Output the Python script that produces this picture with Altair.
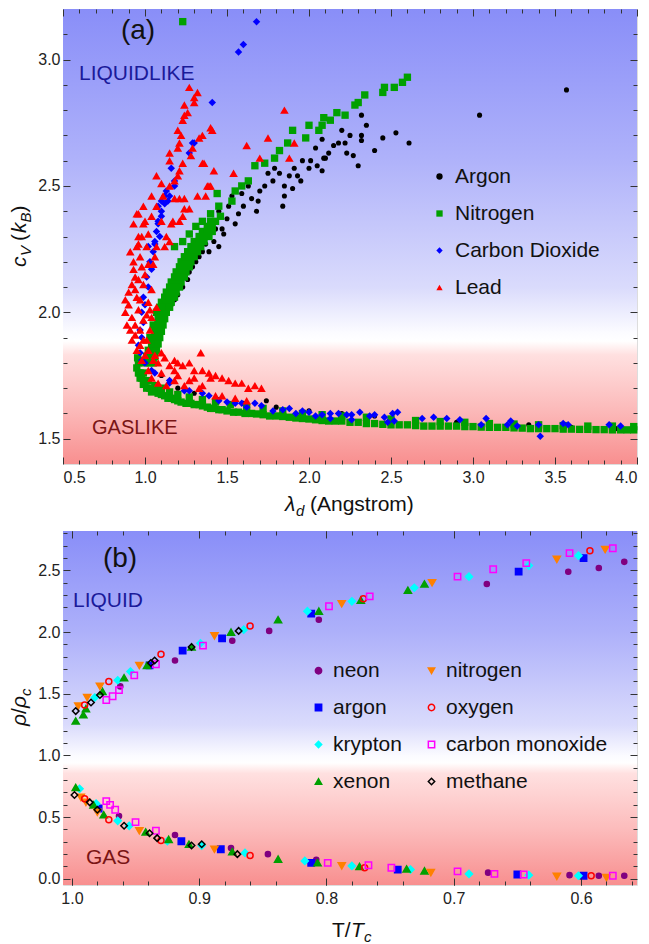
import altair as alt
import pandas as pd

# ---------------- Panel (a) data: (lambda_d [Angstrom], c_V [k_B]) ----------------
argon_pts = [
    (1.06, 1.88), (1.08, 1.89), (1.08, 1.93), (1.10, 1.96), (1.13, 2.00), (1.16, 2.03), (1.20, 2.07),
    (1.23, 2.10), (1.26, 2.13), (1.29, 2.18), (1.33, 2.22), (1.39, 2.24), (1.45, 2.26), (1.35, 2.24),
    (1.37, 2.27), (1.39, 2.30), (1.41, 2.36), (1.45, 2.40), (1.48, 2.31), (1.51, 2.42), (1.53, 2.46),
    (1.55, 2.35), (1.57, 2.39), (1.59, 2.47), (1.63, 2.50), (1.68, 2.40), (1.69, 2.44), (1.73, 2.50),
    (1.75, 2.55), (1.79, 2.57), (1.84, 2.42), (1.85, 2.46), (1.85, 2.50), (1.88, 2.54), (1.93, 2.54),
    (1.91, 2.57), (1.96, 2.60), (2.00, 2.57), (2.01, 2.60), (2.04, 2.65), (2.09, 2.61), (2.08, 2.56),
    (2.08, 2.685), (2.10, 2.61), (2.15, 2.66), (2.20, 2.72), (2.22, 2.67), (2.23, 2.63), (2.30, 2.58),
    (2.32, 2.78), (2.32, 2.70), (2.32, 2.68), (2.35, 2.74), (2.53, 2.71), (2.61, 2.67), (3.04, 2.78),
    (3.57, 2.88), (1.18, 2.05), (1.22, 2.12), (1.27, 2.16), (1.31, 2.20), (1.42, 2.28), (1.47, 2.33),
    (1.50, 2.37), (1.43, 2.33), (1.60, 2.42), (1.65, 2.45), (1.70, 2.48), (1.78, 2.52), (1.82, 2.55),
    (1.90, 2.49), (1.95, 2.52), (2.05, 2.58), (2.12, 2.63), (2.18, 2.67), (2.25, 2.70), (2.27, 2.62),
    (2.40, 2.64), (2.45, 2.69),
    (1.74, 1.65), (1.10, 1.75), (1.20, 1.70), (1.30, 1.68), (1.45, 1.655), (1.60, 1.64), (1.80, 1.625),
    (2.00, 1.61), (2.20, 1.60), (2.40, 1.59), (2.65, 1.575), (2.90, 1.565), (3.10, 1.555), (3.34, 1.555),
    (3.60, 1.545), (3.87, 1.54),
]
nitrogen_pts = [
    (1.00, 1.80), (1.03, 1.80), (1.05, 1.80), (1.02, 1.85), (1.05, 1.85), (1.07, 1.85),
    (1.03, 1.90), (1.06, 1.90), (1.09, 1.90), (1.05, 1.95), (1.08, 1.95), (1.11, 1.95),
    (1.07, 2.00), (1.10, 2.00), (1.13, 2.00), (1.10, 2.04), (1.13, 2.04), (1.16, 2.04),
    (1.13, 2.08), (1.16, 2.08), (1.19, 2.08), (1.16, 2.12), (1.19, 2.12), (1.22, 2.12),
    (1.19, 2.16), (1.22, 2.16), (1.25, 2.16), (1.22, 2.20), (1.25, 2.20), (1.28, 2.20),
    (1.26, 2.24), (1.29, 2.24), (1.32, 2.24), (1.30, 2.28), (1.33, 2.28), (1.36, 2.28),
    (1.35, 2.32), (1.38, 2.32), (1.41, 2.32), (1.40, 2.36), (1.43, 2.36), (1.46, 2.38),
    (1.01, 1.825), (1.04, 1.825), (1.06, 1.825), (1.04, 1.875), (1.07, 1.875), (1.08, 1.875),
    (1.06, 1.925), (1.09, 1.925), (1.10, 1.925), (1.08, 1.975), (1.11, 1.975), (1.12, 1.975),
    (1.09, 2.02), (1.12, 2.02), (1.15, 2.02), (1.12, 2.06), (1.15, 2.06), (1.18, 2.06),
    (1.15, 2.10), (1.18, 2.10), (1.21, 2.10), (1.18, 2.14), (1.21, 2.14), (1.24, 2.14),
    (1.21, 2.18), (1.24, 2.18), (1.27, 2.18), (1.24, 2.22), (1.27, 2.22), (1.30, 2.22),
    (1.28, 2.26), (1.31, 2.26), (1.34, 2.26), (1.33, 2.30), (1.36, 2.30), (1.39, 2.30),
    (1.38, 2.34), (1.41, 2.34),
    (1.18, 2.26), (1.23, 2.28), (1.27, 2.31), (1.31, 2.34), (1.35, 2.36), (1.40, 2.39), (1.45, 2.42),
    (1.44, 2.47), (1.53, 2.44), (1.55, 2.48), (1.59, 2.50), (1.63, 2.52), (1.67, 2.58), (1.73, 2.59),
    (1.79, 2.61), (1.82, 2.64), (1.87, 2.67), (1.90, 2.72), (1.98, 2.69), (2.00, 2.74), (2.06, 2.72),
    (2.09, 2.77), (2.08, 2.74), (2.13, 2.76), (2.17, 2.79), (2.22, 2.78), (2.28, 2.82), (2.30, 2.83),
    (2.34, 2.86), (2.45, 2.87), (2.46, 2.89), (2.52, 2.89), (2.57, 2.91), (2.60, 2.93), (1.23, 3.15),
    (0.96, 1.80), (0.95, 1.78), (0.97, 1.76), (0.98, 1.74), (1.00, 1.72), (1.03, 1.70), (1.06, 1.69),
    (1.08, 1.68), (1.12, 1.67), (1.16, 1.66), (1.20, 1.65), (1.25, 1.64), (1.30, 1.635), (1.35, 1.63),
    (1.40, 1.62), (1.45, 1.615), (1.50, 1.61), (1.57, 1.605), (1.65, 1.60), (1.72, 1.595), (1.80, 1.59),
    (1.88, 1.585), (1.96, 1.58), (2.04, 1.575), (2.12, 1.57), (2.20, 1.57), (2.30, 1.565), (2.40, 1.56),
    (2.50, 1.555), (2.60, 1.555), (2.70, 1.55), (2.80, 1.55), (2.90, 1.55), (3.00, 1.548), (3.10, 1.545),
    (3.20, 1.545), (3.30, 1.542), (3.40, 1.54), (3.50, 1.54), (3.60, 1.538), (3.70, 1.537), (3.80, 1.536),
    (3.90, 1.535), (3.98, 1.535),
    (0.99, 1.76), (1.02, 1.73), (1.06, 1.71), (1.10, 1.70), (1.15, 1.685), (1.20, 1.675), (1.27, 1.665),
    (1.35, 1.655), (1.43, 1.645), (1.52, 1.635), (1.62, 1.625), (1.72, 1.62), (1.84, 1.61), (1.96, 1.60),
    (2.08, 1.595), (2.20, 1.59), (2.35, 1.585), (2.50, 1.578), (2.65, 1.572), (2.80, 1.568), (2.95, 1.565),
    (3.10, 1.56), (3.25, 1.558), (3.40, 1.555), (3.55, 1.552), (3.70, 1.55), (3.85, 1.55), (3.98, 1.548),
    (0.955, 1.82), (0.96, 1.76), (0.97, 1.74), (0.99, 1.715), (1.01, 1.70), (1.04, 1.685), (1.10, 1.675),
    (1.14, 1.66), (1.18, 1.655), (1.22, 1.645), (1.28, 1.64), (1.33, 1.635), (1.38, 1.625), (1.42, 1.62),
    (1.47, 1.615), (1.54, 1.605), (1.61, 1.60), (1.68, 1.598), (1.76, 1.59), (1.84, 1.588), (1.92, 1.582),
    (2.00, 1.578), (2.08, 1.572), (2.16, 1.57), (2.25, 1.565), (2.35, 1.56), (2.45, 1.557), (2.55, 1.555),
    (2.65, 1.552), (2.75, 1.55), (2.85, 1.55), (2.95, 1.548), (3.05, 1.546), (3.15, 1.545), (3.25, 1.543),
    (3.35, 1.54), (3.45, 1.54), (3.55, 1.538), (3.65, 1.537), (3.75, 1.536), (3.85, 1.535), (3.94, 1.535),
]
co2_pts = [
    (1.41, 2.83), (1.57, 3.03), (1.60, 3.06), (1.68, 3.15),
    (1.30, 2.67), (1.29, 2.67), (1.27, 2.63), (1.16, 2.57), (1.18, 2.52), (1.18, 2.50), (1.15, 2.46),
    (1.12, 2.46), (1.14, 2.44), (1.10, 2.44), (1.12, 2.43), (1.08, 2.42), (1.10, 2.40), (1.08, 2.36),
    (1.07, 2.32), (1.06, 2.28), (1.02, 2.26), (1.08, 2.35), (1.06, 2.27), (1.03, 2.20), (1.01, 2.14),
    (0.99, 2.06), (0.98, 2.00), (0.97, 1.93), (0.96, 1.87), (0.98, 1.81), (1.04, 1.77), (1.15, 1.73),
    (1.27, 1.69), (1.39, 1.67), (1.05, 2.24), (1.04, 2.17), (1.02, 2.10), (1.00, 2.03), (0.99, 1.96),
    (0.98, 1.90), (0.97, 1.84), (1.00, 1.80), (1.06, 1.76), (1.15, 1.72), (1.24, 1.69), (1.35, 1.68),
    (1.45, 1.65), (1.59, 1.64), (1.71, 1.63), (1.84, 1.615), (1.96, 1.61), (2.08, 1.595), (1.10, 2.38),
    (1.13, 2.48), (1.09, 2.30), (1.50, 1.645), (1.55, 1.64), (1.62, 1.625), (1.67, 1.64), (1.78, 1.61),
    (1.88, 1.62), (1.92, 1.60), (2.00, 1.605), (2.04, 1.59),
    (2.13, 1.60), (2.13, 1.58), (2.18, 1.60), (2.23, 1.595), (2.26, 1.575), (2.26, 1.595), (2.31, 1.605),
    (2.37, 1.59), (2.40, 1.595), (2.46, 1.585), (2.48, 1.565), (2.51, 1.60), (2.52, 1.57), (2.54, 1.605),
    (2.69, 1.58), (2.76, 1.585), (2.84, 1.58), (2.92, 1.575), (3.05, 1.555), (3.08, 1.58), (3.21, 1.555),
    (3.23, 1.57), (3.27, 1.55), (3.40, 1.555), (3.41, 1.51), (3.55, 1.56), (3.58, 1.555), (3.83, 1.555),
    (3.90, 1.55),
]
lead_pts = [
    (1.27, 2.89), (1.32, 2.87), (1.30, 2.85), (1.30, 2.83), (1.24, 2.82), (1.26, 2.79), (1.24, 2.78),
    (1.23, 2.76), (1.20, 2.72), (1.22, 2.70), (1.33, 2.69), (1.35, 2.70), (1.21, 2.67), (1.20, 2.65),
    (1.29, 2.65), (1.28, 2.62), (1.15, 2.63), (1.15, 2.60), (1.23, 2.59), (1.21, 2.56), (1.36, 2.59),
    (1.07, 2.54), (1.20, 2.54), (1.18, 2.52), (1.10, 2.51), (1.38, 2.50), (1.40, 2.50), (1.04, 2.46),
    (1.11, 2.46), (1.32, 2.46), (1.37, 2.46), (1.21, 2.45), (1.24, 2.45), (0.99, 2.42), (1.27, 2.41),
    (1.85, 2.80), (1.75, 2.69), (1.62, 2.66), (1.91, 2.67), (1.70, 2.61), (1.88, 2.61), (1.54, 2.55),
    (1.41, 2.72), (1.40, 2.73), (1.35, 2.59), (1.42, 2.56), (1.39, 2.50), (1.18, 2.45), (1.15, 2.50),
    (0.95, 2.39), (0.93, 2.35), (1.00, 2.36), (1.10, 2.36), (1.16, 2.35), (1.23, 2.38), (1.24, 2.41),
    (0.96, 2.30), (1.02, 2.31), (0.96, 2.27),
    (1.07, 2.42), (0.96, 2.39), (1.04, 2.38), (0.99, 2.35), (1.17, 2.36), (1.21, 2.36), (0.98, 2.30),
    (1.13, 2.30), (1.15, 2.28), (0.95, 2.26), (1.07, 2.26), (1.12, 2.26), (0.91, 2.24), (0.97, 2.22),
    (1.06, 2.22), (1.02, 2.19), (1.05, 2.19), (0.93, 2.17), (1.00, 2.15), (0.96, 2.13), (0.92, 2.11),
    (0.99, 2.11), (1.04, 2.09), (0.90, 2.08), (0.95, 2.06), (1.02, 2.04), (0.90, 2.03), (0.96, 2.01),
    (1.03, 2.01), (1.07, 2.02), (0.92, 1.98), (0.99, 1.97), (1.04, 1.98), (0.91, 1.93), (0.97, 1.93),
    (1.03, 1.93), (0.92, 1.89), (0.99, 1.89), (0.95, 1.85), (1.02, 1.85), (0.98, 1.81), (1.05, 1.81),
    (1.08, 1.80), (1.15, 1.79), (1.23, 1.79), (1.30, 1.77), (1.39, 1.76), (1.34, 1.84), (1.02, 1.77),
    (1.10, 1.76), (1.18, 1.73), (1.24, 1.71), (1.33, 1.70),
    (0.88, 2.05), (0.88, 2.00), (0.89, 1.95), (0.94, 2.09), (0.94, 1.95), (0.94, 1.91), (0.97, 1.87),
    (1.01, 1.89), (1.00, 1.83), (0.93, 2.20), (0.98, 2.18), (1.01, 2.26), (0.94, 2.14), (0.97, 2.05),
    (1.01, 1.99), (1.06, 1.83), (1.12, 1.82), (1.20, 1.80), (1.04, 1.74), (1.08, 1.72), (1.13, 1.71),
    (1.10, 1.84), (1.18, 1.81), (1.27, 1.80), (1.35, 1.77), (1.43, 1.75), (1.51, 1.73), (1.59, 1.72),
    (1.67, 1.71), (1.71, 1.70), (1.18, 1.77), (1.27, 1.73), (1.35, 1.71), (1.43, 1.67), (1.47, 1.67),
    (1.55, 1.66), (1.62, 1.65), (1.40, 1.74), (1.47, 1.74), (1.55, 1.72), (1.63, 1.70), (1.20, 1.75),
    (1.30, 1.74),
]
series_a = ["Argon", "Nitrogen", "Carbon Dioxide", "Lead"]

# ---------------- Panel (b) data: (T/Tc, rho/rho_c) ----------------
neon_pts = [(0.962, 1.56), (0.919, 1.77), (0.874, 1.93), (0.845, 2.01), (0.806, 2.10),
            (0.674, 2.39), (0.610, 2.49), (0.586, 2.52), (0.566, 2.57), (0.963, 0.51), (0.919, 0.355),
            (0.875, 0.25), (0.846, 0.20), (0.808, 0.155), (0.673, 0.05), (0.609, 0.03), (0.586, 0.025),
            (0.566, 0.025)]
argon_b_pts = [(0.939, 1.73), (0.913, 1.85), (0.882, 1.95), (0.812, 2.15), (0.649, 2.49),
               (0.598, 2.60), (0.979, 0.57), (0.914, 0.305), (0.883, 0.24), (0.812, 0.13), (0.744, 0.075),
               (0.650, 0.035), (0.598, 0.025)]
krypton_pts = [(0.964, 1.61), (0.954, 1.68), (0.899, 1.91), (0.865, 2.02), (0.815, 2.17), (0.780, 2.25),
               (0.731, 2.36), (0.688, 2.45), (0.641, 2.54), (0.602, 2.62), (0.982, 1.47),
               (0.994, 0.73), (0.981, 0.61), (0.964, 0.47), (0.955, 0.43), (0.925, 0.305), (0.898, 0.27),
               (0.864, 0.21), (0.817, 0.145), (0.780, 0.105), (0.734, 0.075), (0.688, 0.04), (0.641, 0.03),
               (0.602, 0.025)]
xenon_pts = [(0.997, 1.28), (0.991, 1.33), (0.989, 1.38), (0.976, 1.52), (0.959, 1.63), (0.941, 1.73),
             (0.906, 1.88), (0.875, 2.00), (0.838, 2.10), (0.806, 2.17), (0.773, 2.26), (0.736, 2.34),
             (0.723, 2.39), (0.997, 0.74), (0.983, 0.60), (0.975, 0.52), (0.942, 0.38),
             (0.924, 0.32), (0.908, 0.28), (0.874, 0.22), (0.838, 0.16), (0.807, 0.13), (0.774, 0.10),
             (0.737, 0.08), (0.723, 0.065)]
nitrogen_b_pts = [(0.995, 1.40), (0.988, 1.47), (0.978, 1.56), (0.947, 1.73), (0.888, 1.97), (0.788, 2.23),
                  (0.717, 2.40), (0.619, 2.59), (0.581, 2.67), (0.993, 0.66), (0.989, 0.62), (0.980, 0.54),
                  (0.947, 0.39), (0.888, 0.24), (0.788, 0.105), (0.718, 0.05), (0.619, 0.02), (0.580, 0.01)]
oxygen_pts = [(0.990, 1.41), (0.971, 1.60), (0.930, 1.82), (0.860, 2.05), (0.771, 2.27), (0.593, 2.66),
              (0.990, 0.65), (0.971, 0.48), (0.930, 0.31), (0.860, 0.19), (0.770, 0.09), (0.592, 0.025)]
co_pts = [(0.973, 1.45), (0.968, 1.48), (0.963, 1.53), (0.951, 1.65), (0.934, 1.74), (0.897, 1.89),
          (0.798, 2.21), (0.766, 2.29), (0.697, 2.45), (0.669, 2.51), (0.643, 2.56), (0.609, 2.64),
          (0.575, 2.68), (0.973, 0.63), (0.970, 0.60), (0.966, 0.56), (0.950, 0.46), (0.934, 0.39),
          (0.799, 0.13), (0.767, 0.11), (0.749, 0.09), (0.697, 0.06), (0.668, 0.04), (0.645, 0.035),
          (0.575, 0.025)]
methane_pts = [(0.997, 1.36), (0.985, 1.43), (0.978, 1.49), (0.938, 1.75), (0.935, 1.77), (0.906, 1.88),
               (0.869, 2.01), (0.998, 0.68), (0.986, 0.62), (0.980, 0.56), (0.959, 0.43), (0.939, 0.37),
               (0.933, 0.33), (0.906, 0.27), (0.898, 0.28), (0.870, 0.20)]
series_b = ["neon", "argon", "krypton", "xenon", "nitrogen", "oxygen", "carbon monoxide", "methane"]

# ---------------- tables ----------------
rows = []
for name, pts in zip(series_a, [argon_pts, nitrogen_pts, co2_pts, lead_pts]):
    rows += [{"lam": p[0], "cv": p[1], "gas": name} for p in pts]
df_a = pd.DataFrame(rows)
size_a = {"Argon": 26, "Nitrogen": 54, "Carbon Dioxide": 56, "Lead": 74}
df_a["sz"] = df_a["gas"].map(size_a)

rows = []
for name, pts in zip(series_b, [neon_pts, argon_b_pts, krypton_pts, xenon_pts, nitrogen_b_pts,
                                oxygen_pts, co_pts, methane_pts]):
    rows += [{"t": p[0], "rho": p[1], "species": name} for p in pts]
df_b = pd.DataFrame(rows)
size_b = {"neon": 26, "argon": 40, "krypton": 50, "xenon": 50, "nitrogen": 50,
          "oxygen": 36, "carbon monoxide": 40, "methane": 42}
df_b["sz"] = df_b["species"].map(size_b)

FONT = "Liberation Sans"
W = 574
HA = 455
HB = 354
one = pd.DataFrame({"k": [0]})


def gradient(white_at):
    w = white_at
    return alt.LinearGradient(
        gradient="linear", x1=0, x2=0, y1=0, y2=1,
        stops=[
            alt.GradientStop(color="#898ef8", offset=0),
            alt.GradientStop(color="#aeb1fa", offset=w * 0.45),
            alt.GradientStop(color="#dadbfc", offset=w * 0.85),
            alt.GradientStop(color="#fbfbff", offset=w - 0.01),
            alt.GradientStop(color="#ffffff", offset=w + 0.01),
            alt.GradientStop(color="#ffe0e0", offset=w + 0.04),
            alt.GradientStop(color="#fcbcbc", offset=w + (1 - w) * 0.55),
            alt.GradientStop(color="#f88f8f", offset=1),
        ],
    )


def axis(orient, values, size, labels, pad=4):
    return alt.Axis(orient=orient, values=values, tickSize=size, offset=-size, labels=labels,
                    domain=False, grid=False, title=None, ticks=True, tickColor="#333",
                    tickWidth=1, labelFontSize=16, labelFont=FONT, labelColor="#222",
                    labelPadding=pad, format=".1f", zindex=1)


def txt(text, x, y, size, color="#111", style="normal", align="left", angle=0):
    return alt.Chart(one).mark_text(text=text, fontSize=size, font=FONT, fontStyle=style, color=color,
                                    align=align, baseline="middle", angle=angle).encode(
        x=alt.value(x), y=alt.value(y))


def panel(df, xf, yf, xs, ys, xmaj, xmin, ymaj, ymin, H, white_at, points, texts):
    bg = alt.Chart(one).mark_rect(fill=gradient(white_at), strokeWidth=0).encode(
        x=alt.value(0), x2=alt.value(W), y=alt.value(0), y2=alt.value(H))
    main = points.encode(x=alt.X(xf, scale=xs, axis=axis("bottom", xmaj, 7, True, 5)),
                         y=alt.Y(yf, scale=ys, axis=axis("left", ymaj, 7, True, 3)))
    ghost = []
    for xa, ya in [(axis("bottom", xmin, 4, False), axis("left", ymin, 4, False)),
                   (axis("top", xmaj, 7, False), axis("right", ymaj, 7, False)),
                   (axis("top", xmin, 4, False), axis("right", ymin, 4, False))]:
        ghost.append(alt.Chart(df).mark_point(opacity=0).encode(
            x=alt.X(xf, scale=xs, axis=xa), y=alt.Y(yf, scale=ys, axis=ya)))
    return alt.layer(bg, *ghost, main, *texts).resolve_axis(x="independent", y="independent").properties(
        width=W, height=H)


# ---- panel (a)
xs_a = alt.Scale(domain=[0.5, 4.0], nice=False, zero=False)
ys_a = alt.Scale(domain=[1.4, 3.2], nice=False, zero=False)
xmaj_a = [0.5, 1.0, 1.5, 2.0, 2.5, 3.0, 3.5, 4.0]
xmin_a = [round(0.5 + 0.1 * i, 2) for i in range(1, 35) if i % 5]
ymaj_a = [1.5, 2.0, 2.5, 3.0]
ymin_a = [round(1.4 + 0.1 * i, 2) for i in range(1, 18) if (i - 1) % 5]

leg_a = alt.Legend(orient="none", legendX=366, legendY=157, title=None, labelFontSize=21, labelFont=FONT,
                   labelColor="#111", symbolSize=40, rowPadding=15, labelOffset=5, padding=0, labelLimit=400)
pts_a = alt.Chart(df_a).mark_point(filled=True, opacity=1).encode(
    color=alt.Color("gas:N", scale=alt.Scale(domain=series_a, range=["#000000", "#00a000", "#0000ff", "#ff0000"]),
                    legend=leg_a),
    shape=alt.Shape("gas:N", scale=alt.Scale(domain=series_a, range=["circle", "square", "diamond", "triangle-up"]),
                    legend=leg_a),
    size=alt.Size("sz:Q", scale=None, legend=None),
)
texts_a = [
    txt("(a)", 75, 22, 28, align="center"),
    txt("LIQUIDLIKE", 16, 65, 21, color="#1a1a9a"),
    txt("GASLIKE", 29, 419, 20, color="#7a1414"),
    txt("λ", 222, 496, 21, style="italic"),
    txt("d", 233, 502, 15, style="italic"),
    txt("(Angstrom)", 247, 496, 21),
    txt("c", -43, 258, 21, style="italic", angle=270),
    txt("V", -37, 247, 15, style="italic", angle=270),
    txt("(", -43, 232, 21, angle=270),
    txt("k", -43, 224, 21, style="italic", angle=270),
    txt("B", -37, 213.5, 15, style="italic", angle=270),
    txt(")", -43, 203.5, 21, angle=270),
]
chart_a = panel(df_a, "lam:Q", "cv:Q", xs_a, ys_a, xmaj_a, xmin_a, ymaj_a, ymin_a, HA, 0.72, pts_a, texts_a)

# ---- panel (b)
xs_b = alt.Scale(domain=[0.556, 1.007], nice=False, zero=False, reverse=True)
ys_b = alt.Scale(domain=[-0.05, 2.82], nice=False, zero=False)
xmaj_b = [1.0, 0.9, 0.8, 0.7, 0.6]
xmin_b = [round(0.56 + 0.02 * i, 2) for i in range(0, 23) if (i + 2) % 5]
ymaj_b = [0.0, 0.5, 1.0, 1.5, 2.0, 2.5]
ymin_b = [round(0.1 * i, 2) for i in range(1, 29) if i % 5]

stroke_map = {"neon": "#800080", "argon": "#0000ff", "krypton": "#00ffff", "xenon": "#00a000",
              "nitrogen": "#ff8000", "oxygen": "#ff0000", "carbon monoxide": "#ff00ff", "methane": "#000000"}
fill_map = {"neon": "#800080", "argon": "#0000ff", "krypton": "#00ffff", "xenon": "#00a000",
            "nitrogen": "#ff8000", "oxygen": "transparent", "carbon monoxide": "transparent",
            "methane": "transparent"}
shape_map = {"neon": "circle", "argon": "square", "krypton": "diamond", "xenon": "triangle-up",
             "nitrogen": "triangle-down", "oxygen": "circle", "carbon monoxide": "square", "methane": "diamond"}


def lookup_expr(mapping):
    expr = "'transparent'"
    for k, v in reversed(list(mapping.items())):
        expr = f"datum.value == '{k}' ? '{v}' : ({expr})"
    return expr


leg_b = alt.Legend(orient="none", legendX=245, legendY=129, title=None, columns=2, labelFontSize=21,
                   labelFont=FONT, labelColor="#111", symbolSize=40, symbolStrokeWidth=1.5, rowPadding=15,
                   columnPadding=19, labelOffset=4, padding=0, labelLimit=400,
                   symbolFillColor=alt.ExprRef(expr=lookup_expr(fill_map)),
                   symbolStrokeColor=alt.ExprRef(expr=lookup_expr(stroke_map)))
pts_b = alt.Chart(df_b).mark_point(filled=False, opacity=1, fillOpacity=1, strokeWidth=1.5).encode(
    stroke=alt.Stroke("species:N", scale=alt.Scale(domain=series_b, range=[stroke_map[g] for g in series_b]),
                      legend=None),
    fill=alt.Fill("species:N", scale=alt.Scale(domain=series_b, range=[fill_map[g] for g in series_b]),
                  legend=None),
    shape=alt.Shape("species:N", scale=alt.Scale(domain=series_b, range=[shape_map[g] for g in series_b]),
                    legend=leg_b),
    size=alt.Size("sz:Q", scale=None, legend=None),
)
texts_b = [
    txt("(b)", 57, 28, 28, align="center"),
    txt("LIQUID", 10, 70, 21, color="#1a1a9a"),
    txt("GAS", 23, 327, 21, color="#7a1414"),
    txt("T/", 269, 400, 21),
    txt("T", 288, 400, 21, style="italic"),
    txt("c", 301, 406, 15, style="italic"),
    txt("ρ", -43, 195, 21, style="italic", angle=270),
    txt("/", -43, 183, 21, angle=270),
    txt("ρ", -43, 177, 21, style="italic", angle=270),
    txt("c", -37, 165, 15, style="italic", angle=270),
]
chart_b = panel(df_b, "t:Q", "rho:Q", xs_b, ys_b, xmaj_b, xmin_b, ymaj_b, ymin_b, HB, 0.645, pts_b, texts_b)

chart = alt.vconcat(chart_a, chart_b, spacing=10).resolve_scale(
    color="independent", shape="independent", fill="independent", stroke="independent"
).resolve_legend(
    color="independent", shape="independent", fill="independent", stroke="independent"
).properties(
    padding={"left": 0, "top": 0, "right": 0, "bottom": 0}
).configure_view(stroke="#3a3a3a", strokeWidth=1.2).configure(font=FONT)

chart.save("out.html", embed_options={"renderer": "svg", "actions": False})
